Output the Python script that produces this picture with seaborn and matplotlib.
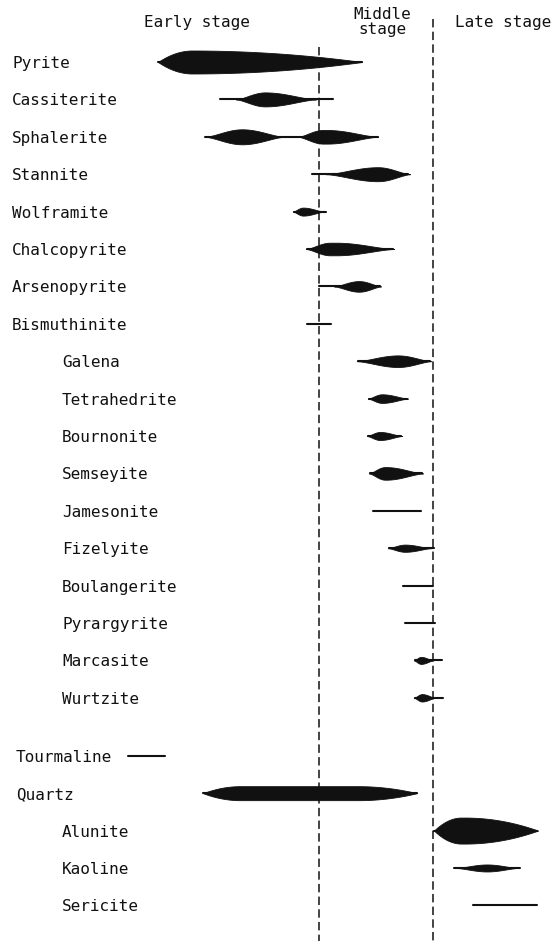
import numpy as np
import pandas as pd
import matplotlib
matplotlib.use("Agg")
import matplotlib.pyplot as plt
import seaborn as sns

# ---- paragenetic sequence data -------------------------------------------
minerals = ["Pyrite", "Cassiterite", "Sphalerite", "Stannite", "Wolframite",
            "Chalcopyrite", "Arsenopyrite", "Bismuthinite", "Galena",
            "Tetrahedrite", "Bournonite", "Semseyite", "Jamesonite",
            "Fizelyite", "Boulangerite", "Pyrargyrite", "Marcasite",
            "Wurtzite", "Tourmaline", "Quartz", "Alunite", "Kaoline",
            "Sericite"]
groups = (["ore"] * 8 + ["late ore"] * 10 + ["gangue"] * 2
          + ["alteration"] * 3)

# time span over which each mineral occurs (relative time units)
span_start = [158, 220, 205, 312, 294, 307, 319, 307, 358, 369, 368, 370,
              373, 389, 403, 405, 415, 415, 128, 203, 434, 454, 473]
span_end = [362, 333, 378, 408, 326, 393, 380, 331, 430, 407, 401, 422,
            421, 434, 433, 435, 442, 443, 165, 417, 537, 520, 537]

# abundance maxima: start, peak onset, peak end, finish, abundance, outline
lens_mineral = ["Pyrite", "Cassiterite", "Sphalerite", "Sphalerite",
                "Stannite", "Wolframite", "Chalcopyrite", "Arsenopyrite",
                "Galena", "Tetrahedrite", "Bournonite", "Semseyite",
                "Fizelyite", "Marcasite", "Wurtzite", "Quartz", "Alunite",
                "Kaoline"]
lens_start = [158, 236, 205, 298, 326, 293, 306, 334, 357, 368, 367, 369,
              388, 414, 414, 203, 434, 456]
lens_peak_from = [192, 265, 242, 323, 378, 303, 330, 359, 398, 382, 380,
                  385, 405, 421, 422, 240, 461, 487]
lens_peak_to = [192, 265, 242, 327, 378, 303, 336, 359, 398, 382, 380,
                386, 405, 421, 422, 358, 465, 487]
lens_end = [362, 316, 284, 378, 410, 324, 394, 381, 431, 408, 402, 423,
            431, 433, 435, 417, 538, 518]
lens_abundance = [11.5, 7.0, 7.5, 6.8, 7.0, 4.0, 6.3, 5.3, 5.8, 4.3, 4.0,
                  6.3, 3.6, 3.5, 3.7, 7.0, 13.0, 3.5]
lens_outline = ["round", "spindle", "spindle", "spindle", "spindle",
                "spindle", "spindle", "spindle", "spindle", "spindle",
                "spindle", "spindle", "spindle", "spindle", "spindle",
                "round", "round", "spindle"]

stage_names = ["Early stage", "Middle\nstage", "Late stage"]
stage_bounds = [319, 433]

# ---- layout ---------------------------------------------------------------
ROW_PX = 37.4          # pixel height of one row
TOP_PX = 62.0          # pixel centre of first row
FIG_W, FIG_H = 552, 941
group_gap = {"ore": 0.0, "late ore": 0.0, "gangue": 0.55, "alteration": 0.55}
label_x = {"ore": 12, "late ore": 62, "gangue": 16, "alteration": 62}
INK = "#111111"

ypos = {m: i + group_gap[g] for i, (m, g) in enumerate(zip(minerals, groups))}


def row(px):
    return (px - TOP_PX) / ROW_PX


def taper(u, outline):
    if outline == "round":
        return 1 - u ** 2
    return ((1 + np.cos(np.pi * u)) / 2) ** 0.75


def profile(x, a, p1, p2, b, h, outline):
    out = np.zeros_like(x)
    left = (x >= a) & (x < p1)
    out[left] = h * taper((p1 - x[left]) / (p1 - a), outline)
    mid = (x >= p1) & (x <= p2)
    out[mid] = h
    right = (x > p2) & (x <= b)
    out[right] = h * taper((x[right] - p2) / (b - p2), outline)
    return out


sns.set_theme(style="white")
plt.rcParams["font.family"] = ["DejaVu Sans Mono", "DejaVu Sans"]

fig = plt.figure(figsize=(FIG_W / 100, FIG_H / 100), dpi=100)
ax = fig.add_axes([0, 0, 1, 1])
ax.set_xlim(0, FIG_W)
ax.set_ylim(row(FIG_H), row(0))
ax.axis("off")

# thin occurrence lines
segs = pd.DataFrame({
    "x": span_start + span_end,
    "y": [ypos[m] for m in minerals] * 2,
    "mineral": minerals * 2,
})
sns.lineplot(data=segs, x="x", y="y", units="mineral", estimator=None,
             color=INK, lw=1.5, sort=False, ax=ax, legend=False)

# abundance lenses
for m, a, p1, p2, b, h, o in zip(lens_mineral, lens_start, lens_peak_from,
                                 lens_peak_to, lens_end, lens_abundance,
                                 lens_outline):
    xs = np.linspace(a, b, 400)
    half = profile(xs, a, p1, p2, b, h, o) / ROW_PX
    y0 = ypos[m]
    ax.fill_between(xs, y0 - half, y0 + half, color=INK, lw=0.6,
                    edgecolor=INK)

# stage boundaries
ax.plot([stage_bounds[0]] * 2, [row(47), row(FIG_H)], color=INK, lw=1.1,
        ls=(0, (5.5, 2.8)))
ax.plot([stage_bounds[1]] * 2, [row(19), row(FIG_H)], color=INK, lw=1.1,
        ls=(0, (5.5, 2.8)))

# stage titles
title_kw = dict(fontsize=11.5, color=INK, va="center")
ax.text(197, row(22), stage_names[0], ha="center", **title_kw)
ax.text(382, row(22), stage_names[1], ha="center", linespacing=0.95,
        **title_kw)
ax.text(551, row(22), stage_names[2], ha="right", **title_kw)

# mineral names
for m, g in zip(minerals, groups):
    ax.text(label_x[g], ypos[m], m, fontsize=11.5, color=INK, ha="left",
            va="center_baseline")

fig.savefig("out.png", dpi=100, facecolor="white")
